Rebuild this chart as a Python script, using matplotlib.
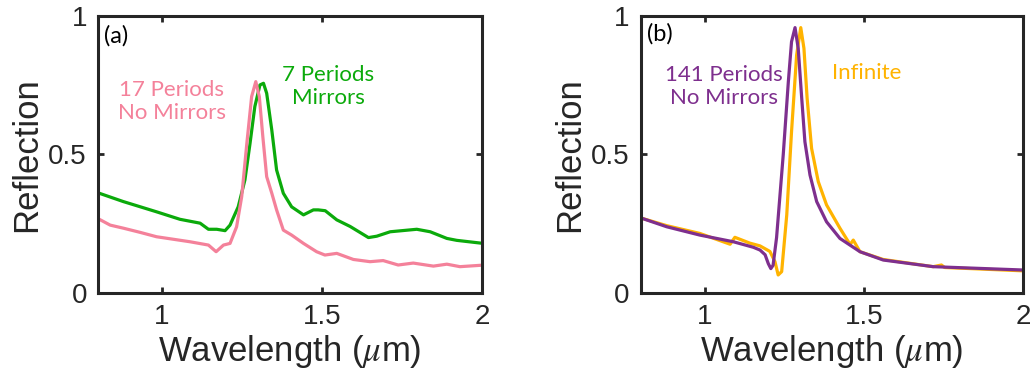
import numpy as np
import matplotlib
matplotlib.use("Agg")
import matplotlib.pyplot as plt

plt.rcParams["font.family"] = ["Liberation Sans", "DejaVu Sans"]
plt.rcParams["mathtext.fontset"] = "stix"

# Panel (a): 17 periods no mirrors (pink), 7 periods with mirrors (green)
wl_green = [0.804, 0.879, 0.983, 1.056, 1.119, 1.145, 1.171, 1.197, 1.2125, 1.238,
            1.259, 1.275, 1.29, 1.306, 1.317, 1.327, 1.343, 1.358, 1.379, 1.405,
            1.442, 1.473, 1.488, 1.51, 1.546, 1.588, 1.645, 1.671, 1.713, 1.796,
            1.838, 1.89, 1.921, 1.996]
r_green = [0.36, 0.33, 0.293, 0.266, 0.252, 0.23, 0.23, 0.225, 0.245, 0.311,
           0.408, 0.54, 0.673, 0.751, 0.757, 0.721, 0.588, 0.444, 0.36, 0.311,
           0.282, 0.30, 0.30, 0.297, 0.264, 0.24, 0.20, 0.205, 0.221, 0.23,
           0.221, 0.197, 0.19, 0.18]

wl_pink = [0.804, 0.838, 0.879, 0.931, 0.983, 1.035, 1.087, 1.145, 1.169, 1.192,
           1.2125, 1.233, 1.249, 1.265, 1.28, 1.293, 1.304, 1.315, 1.327, 1.343,
           1.358, 1.379, 1.405, 1.442, 1.483, 1.509, 1.546, 1.598, 1.65, 1.691,
           1.738, 1.785, 1.848, 1.89, 1.931, 1.996]
r_pink = [0.266, 0.245, 0.234, 0.219, 0.203, 0.194, 0.185, 0.173, 0.149, 0.173,
          0.179, 0.239, 0.348, 0.54, 0.709, 0.763, 0.709, 0.564, 0.42, 0.36,
          0.30, 0.227, 0.209, 0.179, 0.149, 0.137, 0.143, 0.121, 0.113, 0.117,
          0.101, 0.108, 0.097, 0.104, 0.095, 0.10]

# Panel (b): 141 periods no mirrors (purple), infinite (orange)
wl_purple = [0.802, 0.881, 0.985, 1.09, 1.153, 1.174, 1.19, 1.2, 1.208, 1.215,
             1.226, 1.247, 1.263, 1.273, 1.284, 1.294, 1.305, 1.315, 1.331, 1.352,
             1.383, 1.425, 1.488, 1.561, 1.718, 1.999]
r_purple = [0.27, 0.239, 0.209, 0.185, 0.165, 0.155, 0.138, 0.106, 0.088, 0.1,
            0.2, 0.5, 0.763, 0.907, 0.958, 0.883, 0.703, 0.546, 0.426, 0.33,
            0.257, 0.197, 0.149, 0.119, 0.095, 0.083]

wl_orange = [0.802, 0.881, 0.985, 1.08, 1.095, 1.142, 1.174, 1.205, 1.221, 1.231,
             1.242, 1.258, 1.273, 1.289, 1.302, 1.312, 1.322, 1.336, 1.357, 1.383,
             1.425, 1.457, 1.467, 1.488, 1.561, 1.718, 1.744, 1.754, 1.999]
r_orange = [0.27, 0.243, 0.215, 0.176, 0.201, 0.18, 0.17, 0.15, 0.113, 0.065,
            0.077, 0.282, 0.582, 0.859, 0.958, 0.883, 0.703, 0.522, 0.402, 0.318,
            0.234, 0.175, 0.191, 0.149, 0.121, 0.095, 0.101, 0.092, 0.08]

green = "#0BAA0B"
pink = "#F4819A"
purple = "#7E2F8E"
orange = "#FFB300"
dark = "#262626"

fig = plt.figure(figsize=(10.34, 3.85), dpi=100)
ax1 = fig.add_axes([0.0948, 0.239, 0.3714, 0.7195])
ax2 = fig.add_axes([0.6199, 0.239, 0.3694, 0.7195])

ax1.plot(wl_green, r_green, color=green, linewidth=2.3)
ax1.plot(wl_pink, r_pink, color=pink, linewidth=2.3)
ax2.plot(wl_orange, r_orange, color=orange, linewidth=2.3)
ax2.plot(wl_purple, r_purple, color=purple, linewidth=2.3)

note_font = ["Lato", "DejaVu Sans"]
ax1.text(0.015, 0.93, "(a)", transform=ax1.transAxes, fontsize=17,
         family=note_font, ha="left", va="center")
ax2.text(0.015, 0.935, "(b)", transform=ax2.transAxes, fontsize=17,
         family=note_font, ha="left", va="center")
ax1.text(1.03, 0.69, "17 Periods\nNo Mirrors", color=pink, fontsize=16,
         family=note_font, ha="center", va="center", linespacing=1.2)
ax1.text(1.52, 0.745, "7 Periods\nMirrors", color=green, fontsize=16,
         family=note_font, ha="center", va="center", linespacing=1.2)
ax2.text(1.06, 0.745, "141 Periods\nNo Mirrors", color=purple, fontsize=16,
         family=note_font, ha="center", va="center", linespacing=1.2)
ax2.text(1.51, 0.795, "Infinite", color=orange, fontsize=16,
         family=note_font, ha="center", va="center")

for ax in (ax1, ax2):
    ax.set_xlim(0.8, 2)
    ax.set_ylim(0, 1)
    ax.set_xticks([1, 1.5, 2])
    ax.set_xticklabels(["1", "1.5", "2"])
    ax.set_yticks([0, 0.5, 1])
    ax.set_yticklabels(["0", "0.5", "1"])
    ax.tick_params(direction="in", length=4, width=2, colors=dark,
                   labelsize=20, top=True, right=True, pad=8)
    for sp in ax.spines.values():
        sp.set_linewidth(2.2)
        sp.set_color(dark)
    ax.set_xlabel(r"Wavelength ($\mu$m)", fontsize=25, color=dark, labelpad=2)
    ax.set_ylabel("Reflection", fontsize=25, color=dark, labelpad=4)

fig.savefig("out.png", dpi=100)
